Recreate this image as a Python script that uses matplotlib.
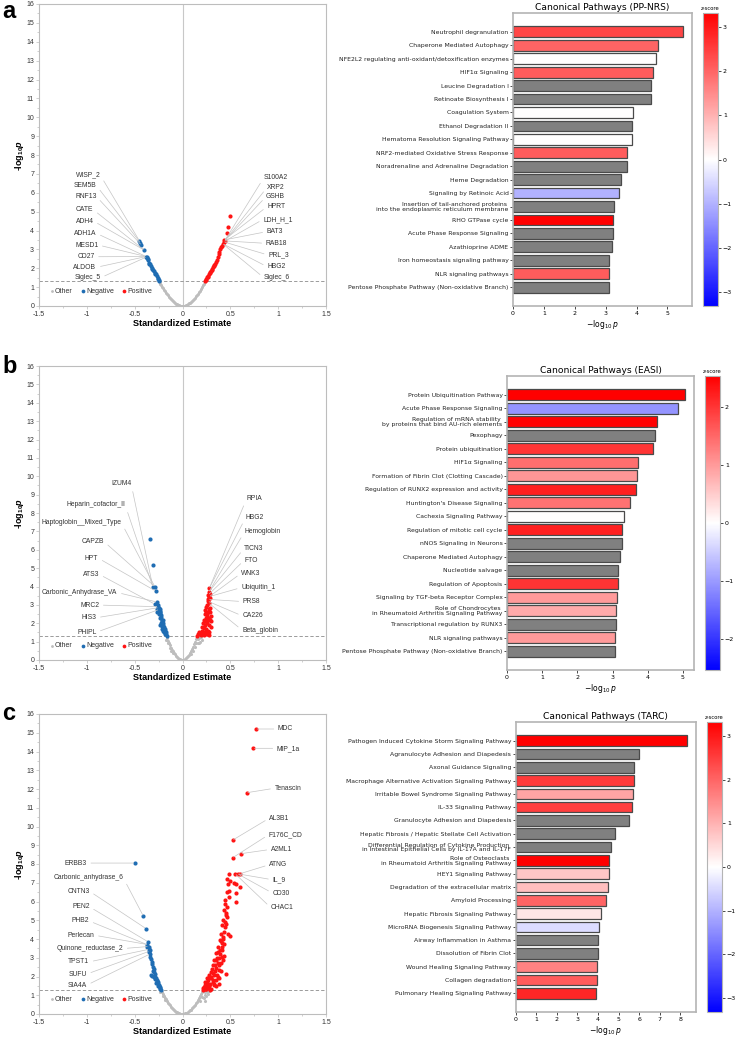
import matplotlib
matplotlib.use('Agg')
import matplotlib.pyplot as plt
import numpy as np
from matplotlib import cm, colors

plt.rcParams['font.family'] = ['Liberation Sans', 'DejaVu Sans']
plt.rcParams['mathtext.fontset'] = 'custom'
plt.rcParams['mathtext.rm'] = 'Liberation Sans:bold'
plt.rcParams['mathtext.it'] = 'Liberation Sans:italic:bold'
plt.rcParams['mathtext.bf'] = 'Liberation Sans:bold'

# ---------------- volcano data ----------------
# panel a (PP-NRS)
a_oth_x = [-0.24, -0.23, -0.22, -0.21, -0.20, -0.19, -0.18, -0.17, -0.16, -0.15, -0.14, -0.13, -0.12, -0.11,
           -0.10, -0.09, -0.08, -0.07, -0.06, -0.05, -0.04, -0.03, -0.02, -0.01, 0.0, 0.01, 0.02, 0.03, 0.04,
           0.05, 0.06, 0.07, 0.08, 0.09, 0.10, 0.11, 0.12, 0.13, 0.14, 0.15, 0.16, 0.17, 0.18, 0.19, 0.20,
           0.21, 0.22, 0.23]
a_oth_y = [1.28, 1.19, 1.10, 1.01, 0.93, 0.85, 0.77, 0.70, 0.63, 0.56, 0.49, 0.43, 0.37, 0.31, 0.26, 0.21,
           0.17, 0.13, 0.095, 0.066, 0.042, 0.024, 0.011, 0.003, 0.0, 0.003, 0.011, 0.024, 0.043, 0.068, 0.098,
           0.134, 0.175, 0.22, 0.27, 0.33, 0.39, 0.45, 0.52, 0.59, 0.66, 0.74, 0.82, 0.91, 1.0, 1.09, 1.18, 1.27]
a_neg_x = [-0.243, -0.25, -0.26, -0.27, -0.28, -0.29, -0.30, -0.31, -0.32, -0.33, -0.34, -0.35, -0.36, -0.37,
           -0.375, -0.38, -0.40, -0.43, -0.44, -0.45, -0.255, -0.285, -0.315, -0.345, -0.365]
a_neg_y = [1.3, 1.38, 1.48, 1.58, 1.68, 1.76, 1.84, 1.92, 2.0, 2.1, 2.2, 2.3, 2.42, 2.53, 2.6, 2.62, 2.96,
           3.23, 3.35, 3.45, 1.43, 1.72, 1.96, 2.25, 2.47]
a_pos_x = [0.235, 0.25, 0.26, 0.27, 0.28, 0.29, 0.30, 0.31, 0.32, 0.33, 0.34, 0.35, 0.36, 0.37, 0.38, 0.385,
           0.39, 0.40, 0.41, 0.42, 0.43, 0.44, 0.435, 0.46, 0.475, 0.495, 0.245, 0.265, 0.285, 0.305, 0.325]
a_pos_y = [1.3, 1.45, 1.52, 1.6, 1.7, 1.78, 1.87, 1.95, 2.05, 2.15, 2.25, 2.35, 2.45, 2.6, 2.75, 2.85, 3.0,
           3.1, 3.2, 3.3, 3.4, 3.45, 3.5, 3.85, 4.2, 4.76, 1.38, 1.56, 1.74, 1.91, 2.1]
a_lab_l = ['WISP_2', 'SEM5B', 'RNF13', 'CATE', 'ADH4', 'ADH1A', 'MESD1', 'CD27', 'ALDOB', 'Siglec_5']
a_tgt_l = [(-0.45, 3.45), (-0.44, 3.35), (-0.43, 3.23), (-0.40, 2.96), (-0.40, 2.96), (-0.38, 2.62),
           (-0.38, 2.62), (-0.38, 2.62), (-0.38, 2.62), (-0.375, 2.6)]
a_lab_r = ['S100A2', 'XRP2', 'GSHB', 'HPRT', 'LDH_H_1', 'BAT3', 'RAB18', 'PRL_3', 'HBG2', 'Siglec_6']
a_tgt_r = [(0.44, 3.45), (0.44, 3.45), (0.44, 3.45), (0.435, 3.5), (0.43, 3.4), (0.435, 3.5), (0.44, 3.45),
           (0.43, 3.4), (0.42, 3.3), (0.42, 3.3)]

# panel b (EASI)
b_oth_x = [-0.166, -0.16, -0.15, -0.14, -0.13, -0.12, -0.11, -0.10, -0.09, -0.08, -0.07, -0.06, -0.05, -0.04,
           -0.03, -0.02, -0.01, 0.0, 0.01, 0.02, 0.03, 0.04, 0.05, 0.06, 0.07, 0.08, 0.09, 0.10, 0.11, 0.12,
           0.13, 0.14, 0.148, -0.15, -0.13, -0.17, -0.12, -0.10, 0.16, 0.17, 0.18, 0.16, 0.20, 0.13, 0.11,
           0.09, 0.14, 0.19, 0.17]
b_oth_y = [1.3, 1.2, 1.06, 0.92, 0.79, 0.68, 0.57, 0.47, 0.38, 0.3, 0.23, 0.17, 0.12, 0.075, 0.042, 0.019,
           0.005, 0.0, 0.006, 0.024, 0.053, 0.094, 0.15, 0.21, 0.29, 0.38, 0.48, 0.59, 0.71, 0.85, 1.0, 1.16,
           1.29, 0.9, 0.65, 1.1, 0.5, 0.38, 1.15, 1.2, 1.0, 0.9, 1.1, 0.7, 0.5, 0.35, 0.95, 1.25, 0.95]
b_neg_x = [-0.166, -0.17, -0.175, -0.18, -0.185, -0.19, -0.2, -0.205, -0.21, -0.2, -0.215, -0.22, -0.225,
           -0.23, -0.24, -0.245, -0.25, -0.255, -0.24, -0.23, -0.22, -0.21, -0.19, -0.18, -0.2, -0.23, -0.215,
           -0.235, -0.25, -0.26, -0.265, -0.34, -0.31, -0.31, -0.29, -0.28, -0.29, -0.264, -0.255, -0.27]
b_neg_y = [1.3, 1.4, 1.5, 1.6, 1.7, 1.8, 1.9, 2.0, 2.1, 2.2, 2.2, 2.35, 2.45, 2.55, 2.65, 2.75, 2.85, 2.9,
           2.8, 2.6, 2.0, 1.7, 1.5, 1.4, 1.6, 1.9, 1.85, 2.3, 2.5, 2.7, 2.8, 6.58, 5.16, 3.98, 4.0, 3.75,
           3.04, 3.15, 3.0, 2.6]
b_pos_x = [0.28, 0.275, 0.27, 0.28, 0.27, 0.29, 0.265, 0.275, 0.29, 0.28, 0.27, 0.26, 0.3, 0.28, 0.29, 0.25,
           0.24, 0.26, 0.28, 0.3, 0.23, 0.22, 0.25, 0.27, 0.2, 0.21, 0.24, 0.18, 0.16, 0.15, 0.19, 0.22,
           0.26, 0.17, 0.2, 0.23, 0.24, 0.25, 0.26, 0.27, 0.23, 0.28, 0.28, 0.21, 0.22, 0.25, 0.26, 0.29,
           0.3, 0.285]
b_pos_y = [3.9, 3.7, 3.55, 3.45, 3.3, 3.35, 3.2, 3.1, 2.85, 2.75, 2.6, 2.5, 2.4, 2.3, 2.2, 2.3, 2.1, 2.0,
           1.9, 1.8, 1.9, 1.75, 1.7, 1.6, 1.6, 1.5, 1.5, 1.45, 1.4, 1.3, 1.35, 1.35, 1.4, 1.5, 1.8, 2.5,
           2.7, 2.9, 3.0, 2.2, 1.4, 1.5, 1.35, 2.0, 2.2, 2.6, 2.4, 2.6, 2.1, 3.6]
b_lab_l = ['IZUM4', 'Heparin_cofactor_II', 'Haptoglobin__Mixed_Type', 'CAPZB', 'HPT', 'ATS3',
           'Carbonic_Anhydrase_VA', 'MRC2', 'HIS3', 'PHIPL']
b_tgt_l = [(-0.31, 3.98), (-0.31, 3.98), (-0.29, 4.0), (-0.29, 4.0), (-0.28, 3.75), (-0.29, 3.04),
           (-0.264, 3.15), (-0.255, 2.9), (-0.25, 2.85), (-0.245, 2.75)]
b_lab_r = ['RPIA', 'HBG2', 'Hemoglobin', 'TICN3', 'FTO', 'WNK3', 'Ubiquitin_1', 'PRS8', 'CA226', 'Beta_globin']
b_tgt_r = [(0.28, 3.9), (0.28, 3.9), (0.275, 3.7), (0.275, 3.7), (0.27, 3.55), (0.28, 3.45), (0.28, 3.45),
           (0.27, 3.3), (0.265, 3.2), (0.275, 3.1)]

# panel c (TARC)
c_oth_x = [-0.22, -0.21, -0.20, -0.19, -0.18, -0.17, -0.16, -0.15, -0.14, -0.13, -0.12, -0.11, -0.10, -0.09,
           -0.08, -0.07, -0.06, -0.05, -0.04, -0.03, -0.02, -0.01, 0.0, 0.01, 0.02, 0.03, 0.04, 0.05, 0.06,
           0.07, 0.08, 0.09, 0.10, 0.11, 0.12, 0.13, 0.14, 0.15, 0.16, 0.17, 0.18, 0.19, 0.20, 0.21,
           0.23, 0.25, 0.22, 0.24, 0.26, 0.20, 0.18, -0.20, -0.18, -0.23, 0.28, 0.24, 0.27]
c_oth_y = [1.3, 1.19, 1.08, 0.97, 0.87, 0.78, 0.69, 0.61, 0.53, 0.46, 0.39, 0.33, 0.27, 0.22, 0.17, 0.13,
           0.097, 0.067, 0.043, 0.024, 0.011, 0.003, 0.0, 0.003, 0.012, 0.027, 0.047, 0.074, 0.106, 0.145,
           0.19, 0.24, 0.3, 0.36, 0.42, 0.5, 0.58, 0.66, 0.76, 0.85, 0.96, 1.07, 1.18, 1.3,
           1.0, 0.95, 0.85, 1.2, 1.15, 0.9, 0.7, 0.95, 0.75, 1.2, 1.25, 0.7, 1.05]
c_neg_x = [-0.495, -0.408, -0.383, -0.36, -0.37, -0.355, -0.345, -0.34, -0.335, -0.33, -0.32, -0.315, -0.31,
           -0.3, -0.3, -0.29, -0.33, -0.32, -0.285, -0.28, -0.3, -0.27, -0.26, -0.255, -0.25, -0.24, -0.23,
           -0.22, -0.275, -0.26, -0.29, -0.31, -0.34, -0.35, -0.366, -0.348, -0.235, -0.245, -0.265]
c_neg_y = [8.05, 5.21, 4.56, 3.85, 3.7, 3.6, 3.35, 3.2, 3.05, 2.95, 2.8, 2.65, 2.5, 2.4, 2.25, 2.15, 2.1,
           2.05, 2.0, 1.9, 1.95, 1.8, 1.7, 1.6, 1.55, 1.45, 1.4, 1.3, 1.65, 1.5, 1.85, 2.3, 3.4, 3.45, 3.58,
           3.32, 1.35, 1.5, 1.75]
c_pos_x = [0.766, 0.739, 0.669, 0.523, 0.61, 0.523, 0.488, 0.55, 0.575, 0.6, 0.47, 0.495, 0.474, 0.54, 0.557,
           0.606, 0.467, 0.488, 0.564, 0.557, 0.44, 0.446, 0.436, 0.453, 0.425, 0.418, 0.446, 0.404, 0.474,
           0.498, 0.387, 0.411, 0.369, 0.394, 0.348, 0.383, 0.331, 0.366, 0.314, 0.348, 0.453, 0.296, 0.331,
           0.272, 0.383, 0.261, 0.314, 0.237, 0.279, 0.216, 0.244, 0.348, 0.331, 0.366, 0.383, 0.4, 0.408,
           0.418, 0.436, 0.425, 0.453, 0.47, 0.46, 0.481, 0.22, 0.25, 0.27, 0.29, 0.3, 0.32, 0.34, 0.36,
           0.35, 0.31, 0.28, 0.26, 0.24, 0.23, 0.26, 0.3, 0.33, 0.36, 0.38, 0.39, 0.41, 0.42, 0.43, 0.44,
           0.45, 0.37, 0.4, 0.34, 0.3, 0.27, 0.32, 0.29, 0.35, 0.38, 0.4, 0.42, 0.43, 0.21, 0.25, 0.28]
c_pos_y = [15.2, 14.17, 11.8, 9.27, 8.55, 8.33, 7.48, 7.48, 7.48, 7.48, 7.2, 7.1, 6.95, 7.0, 6.95, 6.8, 6.5,
           6.56, 6.45, 5.97, 6.06, 5.89, 5.53, 5.27, 5.0, 4.77, 4.65, 4.29, 4.29, 4.17, 3.94, 3.8, 3.55,
           3.4, 3.23, 3.01, 2.87, 2.7, 2.6, 2.43, 2.16, 2.25, 2.07, 1.99, 1.6, 1.72, 1.72, 1.54, 1.49, 1.37,
           1.31, 1.81, 1.54, 1.99, 2.34, 2.7, 3.05, 3.4, 3.76, 4.11, 4.82, 5.18, 5.71, 6.24, 1.45, 1.6, 1.4,
           1.6, 1.9, 2.2, 2.6, 3.0, 2.9, 2.4, 2.1, 1.9, 1.7, 1.35, 1.45, 1.35, 1.6, 2.1, 2.6, 3.2, 3.6, 4.0,
           4.4, 4.9, 5.4, 3.3, 3.9, 2.3, 2.0, 1.8, 1.8, 1.3, 1.5, 1.9, 2.3, 2.9, 3.1, 1.3, 1.35, 1.55]
c_lab_l = ['ERBB3', 'Carbonic_anhydrase_6', 'CNTN3', 'PEN2', 'PHB2', 'Perlecan', 'Quinone_reductase_2',
           'TPST1', 'SUFU', 'SIA4A']
c_tgt_l = [(-0.495, 8.05), (-0.408, 5.21), (-0.383, 4.56), (-0.36, 3.85), (-0.37, 3.7), (-0.36, 3.7),
           (-0.355, 3.6), (-0.35, 3.45), (-0.345, 3.35), (-0.34, 3.2)]
c_lab_r = ['MDC', 'MIP_1a', 'Tenascin', 'AL3B1', 'F176C_CD', 'A2ML1', 'ATNG', 'IL_9', 'CD30', 'CHAC1']
c_tgt_r = [(0.766, 15.2), (0.739, 14.17), (0.669, 11.8), (0.523, 9.27), (0.523, 8.33), (0.61, 8.55),
           (0.6, 7.48), (0.575, 7.48), (0.575, 7.48), (0.55, 7.48)]

# label text positions (layout only)
a_txt_l = [(-0.86, 6.94), (-0.9, 6.38), (-0.9, 5.8), (-0.93, 5.09), (-0.93, 4.5), (-0.9, 3.85),
           (-0.88, 3.23), (-0.92, 2.61), (-0.9, 2.05), (-0.855, 1.5)]
a_txt_r = [(0.85, 6.8), (0.885, 6.29), (0.874, 5.8), (0.885, 5.27), (0.843, 4.59), (0.88, 3.94),
           (0.87, 3.32), (0.895, 2.7), (0.885, 2.08), (0.85, 1.5)]
b_txt_l = [(-0.537, 9.58), (-0.6, 8.44), (-0.64, 7.48), (-0.82, 6.44), (-0.88, 5.54), (-0.87, 4.66),
           (-0.68, 3.67), (-0.87, 2.99), (-0.9, 2.3), (-0.9, 1.51)]
b_txt_r = [(0.672, 8.8), (0.662, 7.77), (0.648, 6.97), (0.645, 6.08), (0.648, 5.44), (0.613, 4.72),
           (0.613, 3.94), (0.63, 3.18), (0.625, 2.4), (0.622, 1.63)]
c_txt_l = [(-1.0, 8.05), (-0.62, 7.27), (-0.97, 6.54), (-0.97, 5.71), (-0.975, 4.96), (-0.92, 4.2),
           (-0.62, 3.49), (-0.975, 2.78), (-1.0, 2.13), (-1.0, 1.54)]
c_txt_r = [(0.997, 15.2), (0.986, 14.17), (0.962, 12.04), (0.906, 10.44), (0.9, 9.56), (0.923, 8.78),
           (0.906, 7.96), (0.94, 7.16), (0.94, 6.45), (0.923, 5.67)]

# ---------------- pathway data ----------------
a_paths = ['Neutrophil degranulation', 'Chaperone Mediated Autophagy',
           'NFE2L2 regulating anti-oxidant/detoxification enzymes', 'HIF1\u03b1 Signaling',
           'Leucine Degradation I', 'Retinoate Biosynthesis I', 'Coagulation System', 'Ethanol Degradation II',
           'Hematoma Resolution Signaling Pathway', 'NRF2-mediated Oxidative Stress Response',
           'Noradrenaline and Adrenaline Degradation', 'Heme Degradation', 'Signaling by Retinoic Acid',
           'Insertion of tail-anchored proteins \ninto the endoplasmic reticulum membrane', 'RHO GTPase cycle',
           'Acute Phase Response Signaling', 'Azathioprine ADME', 'Iron homeostasis signaling pathway',
           'NLR signaling pathways', 'Pentose Phosphate Pathway (Non-oxidative Branch)']
a_logp = [5.52, 4.71, 4.64, 4.54, 4.48, 4.47, 3.89, 3.86, 3.84, 3.70, 3.69, 3.50, 3.43, 3.27, 3.25, 3.24,
          3.21, 3.12, 3.11, 3.11]
a_z = [2.4, 2.0, 0.0, 2.1, np.nan, np.nan, 0.0, np.nan, 0.0, 2.1, np.nan, np.nan, -1.0, np.nan, 3.317,
       np.nan, np.nan, np.nan, 2.1, np.nan]

b_paths = ['Protein Ubiquitination Pathway', 'Acute Phase Response Signaling',
           'Regulation of mRNA stability \nby proteins that bind AU-rich elements', 'Pexophagy',
           'Protein ubiquitination', 'HIF1\u03b1 Signaling', 'Formation of Fibrin Clot (Clotting Cascade)',
           'Regulation of RUNX2 expression and activity', "Huntington's Disease Signaling",
           'Cachexia Signaling Pathway', 'Regulation of mitotic cell cycle', 'nNOS Signaling in Neurons',
           'Chaperone Mediated Autophagy', 'Nucleotide salvage', 'Regulation of Apoptosis',
           'Signaling by TGF-beta Receptor Complex',
           'Role of Chondrocytes \nin Rheumatoid Arthritis Signaling Pathway', 'Transcriptional regulation by RUNX3',
           'NLR signaling pathways', 'Pentose Phosphate Pathway (Non-oxidative Branch)']
b_logp = [5.06, 4.85, 4.25, 4.20, 4.14, 3.71, 3.68, 3.67, 3.50, 3.32, 3.27, 3.26, 3.22, 3.16, 3.15, 3.13,
          3.10, 3.10, 3.07, 3.07]
b_z = [2.53, -1.06, 2.5, np.nan, 2.0, 1.44, 1.04, 2.2, 1.4, 0.0, 2.2, np.nan, np.nan, np.nan, 2.0, 1.0,
       0.84, np.nan, 1.0, np.nan]

c_paths = ['Pathogen Induced Cytokine Storm Signaling Pathway', 'Agranulocyte Adhesion and Diapedesis',
           'Axonal Guidance Signaling', 'Macrophage Alternative Activation Signaling Pathway',
           'Irritable Bowel Syndrome Signaling Pathway', 'IL-33 Signaling Pathway',
           'Granulocyte Adhesion and Diapedesis', 'Hepatic Fibrosis / Hepatic Stellate Cell Activation',
           'Differential Regulation of Cytokine Production \nin Intestinal Epithelial Cells by IL-17A and IL-17F',
           'Role of Osteoclasts \nin Rheumatoid Arthritis Signaling Pathway', 'HEY1 Signaling Pathway',
           'Degradation of the extracellular matrix', 'Amyloid Processing', 'Hepatic Fibrosis Signaling Pathway',
           'MicroRNA Biogenesis Signaling Pathway', 'Airway Inflammation in Asthma', 'Dissolution of Fibrin Clot',
           'Wound Healing Signaling Pathway', 'Collagen degradation', 'Pulmonary Healing Signaling Pathway']
c_logp = [8.34, 6.0, 5.73, 5.73, 5.69, 5.66, 5.5, 4.84, 4.65, 4.55, 4.53, 4.49, 4.37, 4.15, 4.07, 4.02,
          3.99, 3.97, 3.96, 3.90]
c_z = [3.317, np.nan, np.nan, 2.55, 1.17, 2.5, np.nan, np.nan, np.nan, 3.317, 0.73, 0.85, 2.0, 0.33, -0.45,
       np.nan, np.nan, 1.63, 2.1, 2.8]


def volcano(ax, oth_x, oth_y, neg_x, neg_y, pos_x, pos_y, lab_l, tgt_l, txt_l, lab_r, tgt_r, txt_r):
    ax.axvline(0, color='#c8c8c8', lw=0.8, zorder=0)
    ax.axhline(-np.log10(0.05), color='#8c8c8c', lw=0.6, ls=(0, (4, 2.5)), zorder=0)
    ax.scatter(oth_x, oth_y, s=5, c='#bdbdbd', lw=0, label='Other', zorder=2)
    ax.scatter(neg_x, neg_y, s=9, c='#1f6db3', lw=0, label='Negative', zorder=3)
    ax.scatter(pos_x, pos_y, s=9, c='#ff1414', lw=0, label='Positive', zorder=3)
    for name, tgt, txt in zip(lab_l, tgt_l, txt_l):
        ax.annotate(name, xy=tgt, xytext=txt, ha='right', va='center', fontsize=4.9, color='#333333',
                    arrowprops=dict(arrowstyle='-', color='#c4c4c4', lw=0.5, shrinkA=1, shrinkB=1,
                                    relpos=(1, 0.5)))
    for name, tgt, txt in zip(lab_r, tgt_r, txt_r):
        ax.annotate(name, xy=tgt, xytext=txt, ha='left', va='center', fontsize=4.9, color='#333333',
                    arrowprops=dict(arrowstyle='-', color='#c4c4c4', lw=0.5, shrinkA=1, shrinkB=1,
                                    relpos=(0, 0.5)))
    ax.set_xlim(-1.5, 1.5)
    ax.set_ylim(0, 16)
    ax.set_xticks([-1.5, -1, -0.5, 0, 0.5, 1, 1.5])
    ax.set_xticklabels(['-1.5', '-1', '-0.5', '0', '0.5', '1', '1.5'])
    ax.set_yticks(range(17))
    ax.set_yticks(np.arange(0.5, 16, 1), minor=True)
    ax.set_xticks(np.arange(-1.25, 1.5, 0.5), minor=True)
    ax.tick_params(labelsize=5, colors='#bdbdbd', labelcolor='#333333', length=2, width=0.5, pad=1.5)
    ax.tick_params(which='minor', length=1.2, width=0.5, colors='#bdbdbd')
    for s in ax.spines.values():
        s.set_color('#bdbdbd')
        s.set_linewidth(0.8)
    ax.set_ylabel(r'-log$_{10}$$\mathit{p}$', fontsize=6.5, fontweight='bold', labelpad=0.5)
    ax.set_xlabel('Standardized Estimate', fontsize=6.6, fontweight='bold', labelpad=0.5)
    leg = ax.legend(loc='lower left', bbox_to_anchor=(0.01, 0.015), ncol=3, frameon=False, fontsize=5,
                    handletextpad=0.0, columnspacing=0.9, handlelength=1.0, scatterpoints=1,
                    markerscale=0.9)
    for t in leg.get_texts():
        t.set_color('#333333')


def pathways(ax, cax, names, logp, zs, zmax, title, cticks):
    norm = colors.Normalize(-zmax, zmax)
    cmap = plt.get_cmap('bwr')
    cols = ['#808080' if np.isnan(z) else cmap(norm(z)) for z in zs]
    ypos = np.arange(len(names))
    ax.barh(ypos, logp, height=0.8, color=cols, edgecolor='#4a4a4a', linewidth=0.9)
    ax.set_yticks(ypos)
    ax.set_yticklabels(names, fontsize=4.4, family='DejaVu Sans', color='#222222', linespacing=0.95)
    ax.set_ylim(len(names) - 1 + 1.4, -1.4)
    ax.tick_params(axis='x', labelsize=4.5, length=2, width=0.5, pad=1.5)
    ax.tick_params(axis='y', length=2, width=0.5, pad=1.2)
    for t in ax.get_xticklabels():
        t.set_family('DejaVu Sans')
    for s in ax.spines.values():
        s.set_color('#b4b4b4')
        s.set_linewidth(1.2)
    ax.set_xlabel(r'$-\log_{10}p$', fontsize=5.5, labelpad=1.5, math_fontfamily='dejavusans')
    ax.set_title(title, fontsize=6.6, family='DejaVu Sans', pad=2)
    sm = cm.ScalarMappable(norm=norm, cmap=cmap)
    cb = plt.colorbar(sm, cax=cax)
    cb.set_ticks(cticks)
    cb.outline.set_edgecolor('#b4b4b4')
    cb.outline.set_linewidth(0.8)
    cax.tick_params(labelsize=4.5, length=2, width=0.5, pad=1.5)
    for t in cax.get_yticklabels():
        t.set_family('DejaVu Sans')
    cax.set_title('z-score', fontsize=3.8, family='DejaVu Sans', pad=2)


fig = plt.figure(figsize=(7.36, 10.37), dpi=100)
W, H = 736.0, 1037.0


def box(l, t, r, b):
    return [l / W, 1 - b / H, (r - l) / W, (b - t) / H]


ax_a = fig.add_axes(box(39, 4, 326, 306))
ax_b = fig.add_axes(box(39, 366, 326, 660))
ax_c = fig.add_axes(box(39, 714, 326, 1014))
volcano(ax_a, a_oth_x, a_oth_y, a_neg_x, a_neg_y, a_pos_x, a_pos_y, a_lab_l, a_tgt_l, a_txt_l,
        a_lab_r, a_tgt_r, a_txt_r)
volcano(ax_b, b_oth_x, b_oth_y, b_neg_x, b_neg_y, b_pos_x, b_pos_y, b_lab_l, b_tgt_l, b_txt_l,
        b_lab_r, b_tgt_r, b_txt_r)
volcano(ax_c, c_oth_x, c_oth_y, c_neg_x, c_neg_y, c_pos_x, c_pos_y, c_lab_l, c_tgt_l, c_txt_l,
        c_lab_r, c_tgt_r, c_txt_r)

bar_a = fig.add_axes(box(513, 13, 692, 306))
cb_a = fig.add_axes(box(703, 13, 718, 306))
bar_b = fig.add_axes(box(507, 376, 694, 670))
cb_b = fig.add_axes(box(705, 376, 720, 670))
bar_c = fig.add_axes(box(515.7, 722, 696, 1012))
cb_c = fig.add_axes(box(707, 722, 722, 1012))
pathways(bar_a, cb_a, a_paths, a_logp, a_z, 3.317, 'Canonical Pathways (PP-NRS)', [-3, -2, -1, 0, 1, 2, 3])
pathways(bar_b, cb_b, b_paths, b_logp, b_z, 2.53, 'Canonical Pathways (EASI)', [-2, -1, 0, 1, 2])
pathways(bar_c, cb_c, c_paths, c_logp, c_z, 3.317, 'Canonical Pathways (TARC)', [-3, -2, -1, 0, 1, 2, 3])

fig.text(2 / W, 1 - 12 / H, 'a', fontsize=17, fontweight='bold', va='center')
fig.text(2 / W, 1 - 366 / H, 'b', fontsize=17, fontweight='bold', va='center')
fig.text(2 / W, 1 - 713 / H, 'c', fontsize=17, fontweight='bold', va='center')

fig.savefig('out.png', dpi=100)
